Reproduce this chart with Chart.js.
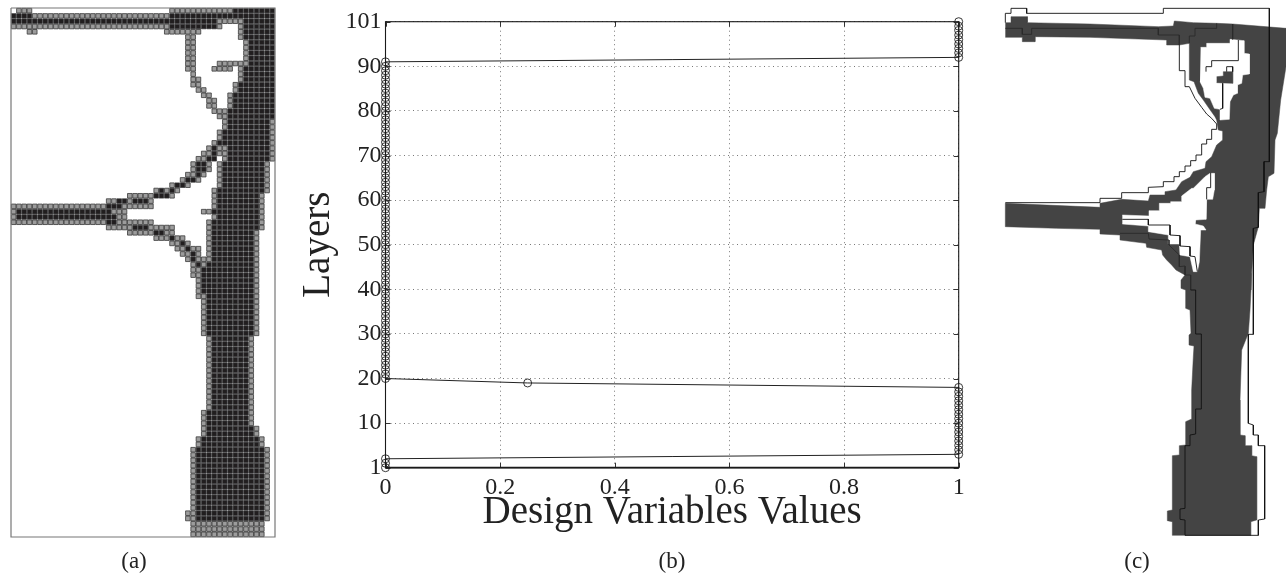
<!DOCTYPE html>
<html><head><meta charset="utf-8">
<style>
html,body{margin:0;padding:0;background:#fff;width:1286px;height:578px;overflow:hidden}
.p{position:absolute;top:0;height:578px}
</style>
<script src="https://cdn.jsdelivr.net/npm/chart.js@4/dist/chart.umd.min.js"></script>
</head><body>
<div class="p" style="left:0;width:290px"><canvas id="a"></canvas></div>
<div class="p" style="left:290px;width:700px"><canvas id="b"></canvas></div>
<div class="p" style="left:990px;width:296px"><canvas id="c"></canvas></div>
<script>
// ---------- panel (a): element densities, [rowFrom,rowTo,colFrom,colTo]
const grayRuns=[
[0,0,1,3],[0,0,30,41],[1,1,4,29],[2,2,39,43],[3,3,0,29],[3,3,39,39],[3,5,43,43],[4,4,3,4],[4,4,29,35],
[5,11,33,34],[6,10,44,44],[10,10,39,43],[11,13,43,43],[11,11,38,41],[12,12,34,34],[13,14,34,35],[14,15,42,42],
[15,15,35,36],[16,18,41,41],[16,16,36,37],[17,18,37,38],[19,19,38,40],[20,20,39,40],[21,22,40,40],[21,28,49,49],
[23,24,39,39],[25,25,38,38],[26,26,37,37],[26,27,39,40],[27,27,36,37],[28,28,35,36],[28,28,40,40],
[29,30,34,34],[29,30,37,37],[29,33,39,39],[29,34,48,48],[31,31,33,34],[31,31,36,36],[32,32,32,32],[32,32,35,35],
[33,33,30,30],[33,33,33,33],[34,34,27,27],[34,34,29,29],[34,34,31,31],[34,37,38,38],[35,41,47,47],[35,35,22,26],[35,35,30,30],
[36,36,18,19],[36,36,22,22],[36,36,26,26],[37,37,0,17],[37,37,21,26],[38,39,0,0],[38,38,19,21],[38,38,36,37],[39,39,20,21],[39,39,38,38],
[40,40,0,17],[40,40,20,26],[40,47,37,37],[41,41,18,22],[41,41,26,30],[42,42,22,26],[42,42,29,30],[42,61,46,46],
[43,43,27,29],[43,43,31,32],[44,44,30,31],[44,44,33,33],[45,45,31,32],[45,45,34,35],[46,46,32,33],[46,46,35,35],
[47,47,33,33],[47,47,35,36],[48,48,34,34],[48,48,36,36],[49,50,34,35],[51,54,35,35],[54,61,36,36],
[62,75,37,37],[62,78,45,45],[76,80,36,36],[79,80,46,46],[81,82,35,35],[81,82,47,47],[83,94,34,34],[83,96,48,48],[95,96,33,34],[97,99,34,47]
];
const darkRuns=[
[0,0,42,49],[1,1,0,3],[1,1,30,49],[2,2,0,38],[2,5,44,49],[3,3,30,38],[6,10,45,49],[11,13,44,49],[14,15,43,49],[16,18,42,49],
[19,20,41,49],[21,22,41,48],[23,24,40,48],[25,25,39,48],[26,28,41,48],[26,27,38,38],[28,28,37,38],[29,30,35,36],[29,33,40,47],
[31,31,35,35],[32,32,33,34],[33,33,31,32],[34,34,28,28],[34,34,30,30],[34,34,39,47],[35,35,27,29],[35,37,39,46],[36,36,20,21],[36,36,23,25],
[37,37,18,20],[38,38,1,18],[38,38,38,46],[39,39,1,19],[39,39,39,46],[40,40,18,19],[40,41,38,46],[41,41,23,25],[42,42,27,28],[42,47,38,45],
[43,43,30,30],[44,44,32,32],[45,45,33,33],[46,46,34,34],[47,47,34,34],[48,48,35,35],[48,48,37,45],[49,50,36,45],[51,53,36,45],[54,61,37,45],
[62,75,38,44],[76,78,37,44],[79,80,37,45],[81,82,36,46],[83,96,35,47]
];
const meshCols=50, meshRows=100;
const frameX=[0,50,50,0,0], frameY=[0,0,100,100,0];
// ---------- panel (b)
const layers=[0,1,2,3,4,5,6,7,8,9,10,11,12,13,14,15,16,17,18,19,20,21,22,23,24,25,26,27,28,29,30,31,32,33,34,35,36,37,38,39,40,41,42,43,44,45,46,47,48,49,50,51,52,53,54,55,56,57,58,59,60,61,62,63,64,65,66,67,68,69,70,71,72,73,74,75,76,77,78,79,80,81,82,83,84,85,86,87,88,89,90,91,92,93,94,95,96,97,98,99,100];
const designValues=[0,0,0,1,1,1,1,1,1,1,1,1,1,1,1,1,1,1,1,0.248,0,0,0,0,0,0,0,0,0,0,0,0,0,0,0,0,0,0,0,0,0,0,0,0,0,0,0,0,0,0,0,0,0,0,0,0,0,0,0,0,0,0,0,0,0,0,0,0,0,0,0,0,0,0,0,0,0,0,0,0,0,0,0,0,0,0,0,0,0,0,0,0,1,1,1,1,1,1,1,1,1];
const yTickLabels=['1','10','20','30','40','50','60','70','80','90','101'];
const xTickLabels=['0','0.2','0.4','0.6','0.8','1'];
// ---------- panel (c): deformed shape, [x,y]
const deformedBody=[[46,68],[63,68],[63,50],[112,50],[112,68],[300,72],[505,80],[550,78],[553,63],[610,68],[680,70],[728,72],[888,85],
[888,200],[872,300],[862,400],[855,420],[852,520],[835,530],[830,570],[825,625],[808,625],[805,680],[790,735],[785,820],[783,870],
[780,930],[775,1000],[755,1050],[750,1200],[750,1305],[765,1307],[765,1337],[785,1337],[785,1367],[800,1370],[800,1560],[782,1565],[782,1606],
[547,1606],[547,1565],[532,1562],[532,1533],[547,1530],[547,1367],[568,1365],[568,1337],[587,1335],[587,1265],[603,1258],[605,1170],[610,1070],[612,1038],[597,1035],[597,1005],[603,1000],[600,930],[587,925],[587,870],
[573,865],[573,840],[585,825],[558,810],[545,795],[530,780],[518,765],[515,750],[470,742],[468,730],[390,720],[390,705],[330,702],[330,688],[200,685],[46,680],
[46,610],[330,622],[330,610],[395,598],[475,603],[480,585],[525,585],[525,575],[558,570],[575,545],[600,532],[610,515],[645,505],[648,485],[665,470],[680,435],[698,420],[698,393],[685,390],[680,360],
[675,350],[655,322],[640,300],[625,280],[612,245],[598,240],[598,130],[568,135],[530,135],[530,120],[300,112],[135,110],[135,125],[97,125],[97,112],[46,112]];
const upperHole=[[632,142],[650,142],[650,130],[720,130],[720,118],[762,122],[762,160],[778,162],[778,222],[758,225],[755,250],[742,255],[742,280],[730,285],[720,305],[718,358],[690,360],[690,328],[673,325],[660,295],[645,292],[640,265],[630,245]];
const upperIsland=[[680,230],[700,228],[700,215],[728,215],[728,250],[680,248]];
const lowerHole=[[397,645],[477,648],[477,632],[508,632],[508,610],[542,610],[542,605],[575,605],[575,588],[605,565],[610,565],[645,530],[660,520],[673,520],[673,570],[668,598],[650,598],[648,658],[617,660],[615,672],[640,678],[648,690],[632,690],[628,785],[622,815],[610,815],[600,770],[570,765],[568,732],[535,732],[535,705],[475,695],[475,678],[397,672]];
const originalOuter=[[46,68],[46,40],[63,40],[63,25],[110,25],[110,40],[520,40],[520,25],[838,25],[838,485],[822,485],[822,575],[805,578],[805,682],[790,685],[790,1003],[775,1003],[775,1270],[790,1275],[790,1305],[805,1305],[805,1337],[824,1337],[824,1557],[805,1560],[805,1606],[585,1606],[585,1560],[570,1558],[570,1527],[585,1525],[585,1337],[600,1337],[600,1305],[617,1302],[617,1227],[634,1227],[634,1002],[617,1002],[617,870],[602,870]];
const originalBrace=[[46,608],[330,608],[330,595],[395,595],[395,578],[475,578],[475,562],[520,560],[520,545],[552,545],[552,530],[568,530],[568,515],[585,515],[585,498],[602,498],[602,482],[618,482],[618,465],[635,465],[635,432],[650,432],[650,418],[665,418],[665,388],[680,388],[680,372],[665,355],[650,342],[635,322],[615,295],[598,260],[585,260],[585,212],[568,212],[568,135]];
const originalLowerBrace=[[390,700],[475,700],[477,717],[537,720],[537,735],[568,765],[568,800],[585,798],[585,825],[602,825],[602,870]];
const originalInner1=[[648,215],[648,200],[665,200],[665,182],[745,182],[745,120]];
const originalInner2=[[710,215],[710,200],[728,200],[728,215]];
const originalInner3=[[698,250],[698,325],[690,328]];
const originalInner4=[[397,658],[475,658],[475,675],[540,675],[540,705],[570,707],[570,738],[600,740],[600,768],[615,770],[622,815]];
const originalInner5=[[650,598],[650,563],[662,563],[662,518]];
const originalInner6=[[505,85],[505,105],[568,105],[568,135]];
const originalInner7=[[598,130],[598,108],[615,108],[615,85],[680,85],[680,70]];
const originalInner8=[[728,72],[728,118]];
const originalInner9=[[46,85],[97,85],[97,103],[125,103],[125,85],[505,85]];

const serif='"Liberation Serif",serif';
const pts=a=>a.map(p=>({x:p[0],y:p[1]}));
function cells(runs){const o=[];for(const [r0,r1,c0,c1] of runs)for(let r=r0;r<=r1;r++)for(let c=c0;c<=c1;c++)o.push({x:c+.5,y:r+.5});return o;}
const caption={id:'caption',afterDraw(ch,args,o){const c=ch.ctx;c.save();c.font='23px '+serif;c.fillStyle='#222';c.textAlign='center';c.textBaseline='alphabetic';c.fillText(o.text,o.x,568);c.restore();}};
const hidden={display:false};
Chart.register(caption);

new Chart(document.getElementById('a'),{type:'scatter',data:{datasets:[
 {data:frameX.map((x,i)=>({x,y:frameY[i]})),showLine:true,borderColor:'#777',borderWidth:1.2,pointRadius:0,clip:false,order:0},
 {data:cells(grayRuns),pointStyle:'rect',pointRadius:3.25,backgroundColor:'#9c9c9c',borderColor:'#3a3a3a',borderWidth:.8,clip:false,order:1},
 {data:cells(darkRuns),pointStyle:'rect',pointRadius:3.25,backgroundColor:'#211e1f',borderColor:'#38383a',borderWidth:.7,clip:false,order:2}
]},options:{animation:false,responsive:true,maintainAspectRatio:false,
 layout:{padding:{left:11,top:8,right:15,bottom:41}},
 scales:{x:{display:false,min:0,max:meshCols},y:{display:false,min:0,max:meshRows,reverse:true}},
 plugins:{legend:hidden,tooltip:{enabled:false},caption:{text:'(a)',x:134}}}});

const frameTicks={id:'frameTicks',afterDatasetsDraw(ch){const {ctx:c,chartArea:a,scales:s}=ch;c.save();c.strokeStyle='#333';c.lineWidth=1;c.beginPath();
 for(const t of s.y.ticks){const y=Math.round(s.y.getPixelForValue(t.value))+.5;c.moveTo(a.left,y);c.lineTo(a.left+5,y);c.moveTo(a.right,y);c.lineTo(a.right-5,y);}
 for(const t of s.x.ticks){const x=Math.round(s.x.getPixelForValue(t.value))+.5;c.moveTo(x,a.bottom);c.lineTo(x,a.bottom-5);c.moveTo(x,a.top);c.lineTo(x,a.top+5);}
 c.stroke();c.strokeStyle='#1a1a1a';c.lineWidth=1.1;c.strokeRect(a.left,a.top,a.width,a.height);
 c.lineWidth=1.8;c.beginPath();c.moveTo(a.left,a.bottom);c.lineTo(a.right,a.bottom);c.stroke();c.restore();}};

new Chart(document.getElementById('b'),{type:'scatter',plugins:[frameTicks],data:{datasets:[
 {data:designValues.map((x,i)=>({x,y:layers[i]})),showLine:true,borderColor:'#222',borderWidth:1,pointRadius:4,pointBorderWidth:.9,pointBorderColor:'#222',pointBackgroundColor:'rgba(0,0,0,0)',backgroundColor:'rgba(0,0,0,0)',clip:false}
]},options:{animation:false,responsive:true,maintainAspectRatio:false,
 layout:{padding:{left:0,top:21.7,right:31.3,bottom:0}},
 scales:{
  x:{type:'linear',min:0,max:1,afterFit(s){s.height=110.3;},
     ticks:{stepSize:.2,maxRotation:0,padding:6,color:'#222',font:{family:serif,size:24},callback:(v,i)=>xTickLabels[i]},
     grid:{color:'#777',drawTicks:false},border:{display:false,dash:[1,3.5]},
     title:{display:true,text:'Design Variables Values',color:'#222',font:{family:serif,size:39},padding:{top:0,bottom:42}}},
  y:{type:'linear',min:0,max:100,afterFit(s){s.width=95.5;},
     ticks:{stepSize:10,padding:4,color:'#222',font:{family:serif,size:24},callback:(v,i)=>yTickLabels[i]},
     grid:{color:'#777',drawTicks:false},border:{display:false,dash:[1,3.5]},
     title:{display:true,text:'Layers',color:'#222',font:{family:serif,size:39},padding:{top:5,bottom:0}}}},
 plugins:{legend:hidden,tooltip:{enabled:false},caption:{text:'(b)',x:382}}}});

const body=(d,col,o)=>({data:pts(d),showLine:true,fill:'shape',backgroundColor:col,borderColor:col,borderWidth:.5,pointRadius:0,clip:false,order:o});
const line=(d,o,col='#111')=>({data:pts(d),showLine:true,fill:false,borderColor:col,borderWidth:.9,pointRadius:0,clip:false,order:o});
new Chart(document.getElementById('c'),{type:'scatter',data:{datasets:[
 body(deformedBody,'#444444',10),body(upperHole,'#ffffff',9),body(lowerHole,'#ffffff',8),body(upperIsland,'#444444',7),
 line(originalOuter,1),line(originalBrace,1),line(originalLowerBrace,1,'#2a2a2a'),line(originalInner1,1),line(originalInner2,1),line(originalInner3,1),line(originalInner4,1),line(originalInner5,1),
 line(originalInner6,1,'#2a2a2a'),line(originalInner7,1,'#2a2a2a'),line(originalInner8,1,'#2a2a2a'),line(originalInner9,1,'#2a2a2a')
]},options:{animation:false,responsive:true,maintainAspectRatio:false,
 scales:{x:{display:false,min:0,max:888},y:{display:false,min:0,max:1734,reverse:true}},
 plugins:{legend:hidden,tooltip:{enabled:false},caption:{text:'(c)',x:147}}}});
</script>
</body></html>
